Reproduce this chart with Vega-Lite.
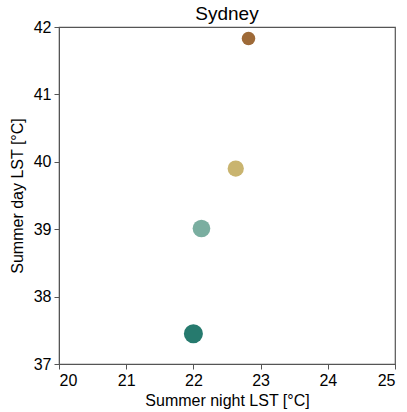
{
  "$schema": "https://vega.github.io/schema/vega-lite/v6.json",
  "width": 336,
  "height": 337,
  "autosize": {"type": "none"},
  "padding": {"left": 59, "top": 27, "right": 12, "bottom": 48},
  "background": "white",
  "title": {"text": "Sydney", "font": "Liberation Sans", "fontSize": 19, "fontWeight": "normal", "color": "black", "offset": -5},
  "config": {
    "view": {"stroke": "#555", "strokeWidth": 1.2},
    "axis": {"grid": false, "domainColor": "#555", "tickColor": "#555", "tickSize": 5, "labelFont": "Liberation Sans", "labelFontSize": 16, "labelColor": "black", "titleFont": "Liberation Sans", "titleFontSize": 16, "titleFontWeight": "normal", "titleColor": "black", "labelPadding": 3}
  },
  "data": {"values": [
    {"night": 22.0, "day": 37.45, "cat": "a", "sz": 110},
    {"night": 22.12, "day": 39.01, "cat": "b", "sz": 95},
    {"night": 22.63, "day": 39.9, "cat": "c", "sz": 80},
    {"night": 22.82, "day": 41.83, "cat": "d", "sz": 55}
  ]},
  "mark": {"type": "circle", "opacity": 1},
  "encoding": {
    "x": {"field": "night", "type": "quantitative", "scale": {"domain": [20, 25], "nice": false, "zero": false}, "axis": {"values": [20, 21, 22, 23, 24, 25], "title": "Summer night LST [°C]", "titlePadding": 4}},
    "y": {"field": "day", "type": "quantitative", "scale": {"domain": [37, 42], "nice": false, "zero": false}, "axis": {"values": [37, 38, 39, 40, 41, 42], "title": "Summer day LST [°C]", "titlePadding": 8}},
    "color": {"field": "cat", "type": "nominal", "scale": {"domain": ["a", "b", "c", "d"], "range": ["#267a6e", "#7aaea0", "#c9b46f", "#9e6a38"]}, "legend": null},
    "size": {"field": "sz", "type": "quantitative", "scale": {"type": "identity"}, "legend": null}
  }
}
